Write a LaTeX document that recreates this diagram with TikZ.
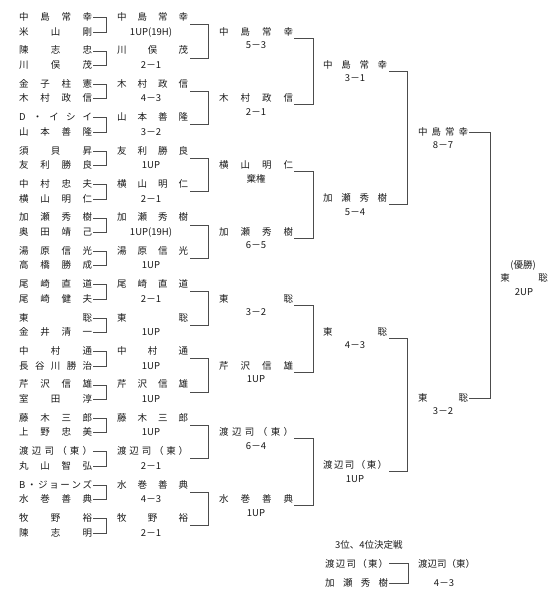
\documentclass[tikz,border=0pt]{standalone}
\usepackage{fontspec}
\setmainfont{Noto Sans CJK JP}
\newcommand\hh{\hfill}
\newcommand\jn[2]{\makebox[#1pt]{#2}}
\tikzset{
 nm/.style={anchor=west, inner sep=0pt, text height=7.5pt, text depth=1.4pt, font=\fontsize{9.5}{10}\selectfont, text=black!90},
 sc/.style={anchor=center, inner sep=0pt, text height=7.5pt, text depth=1.4pt, font=\fontsize{9.5}{10}\selectfont, text=black!90},
 ln/.style={draw=black!70, line width=0.7pt},
}
\begin{document}
\begin{tikzpicture}[x=1pt,y=-1pt]
\path (0,0) rectangle (557,600);
% ---------- round 1
\foreach \k/\a/\b in {
1/中\hh 島\hh 常\hh 幸/米\hh 山\hh 剛,
2/陳\hh 志\hh 忠/川\hh 俣\hh 茂,
3/金\hh 子\hh 柱\hh 憲/木\hh 村\hh 政\hh 信,
4/D\hh ・\hh イ\hh シ\hh イ/山\hh 本\hh 善\hh 隆,
5/須\hh 貝\hh 昇/友\hh 利\hh 勝\hh 良,
6/中\hh 村\hh 忠\hh 夫/横\hh 山\hh 明\hh 仁,
7/加\hh 瀬\hh 秀\hh 樹/奥\hh 田\hh 靖\hh 己,
8/湯\hh 原\hh 信\hh 光/高\hh 橋\hh 勝\hh 成,
9/尾\hh 崎\hh 直\hh 道/尾\hh 崎\hh 健\hh 夫,
10/東\hh 聡/金\hh 井\hh 清\hh 一,
11/中\hh 村\hh 通/長\hh 谷\hh 川\hh 勝\hh 治,
12/芹\hh 沢\hh 信\hh 雄/室\hh 田\hh 淳,
13/藤\hh 木\hh 三\hh 郎/上\hh 野\hh 忠\hh 美,
14/渡\hh 辺\hh 司\hh （\hh 東\hh ）/丸\hh 山\hh 智\hh 弘,
15/B\hh ・\hh ジ\hh ョ\hh ー\hh ン\hh ズ/水\hh 巻\hh 善\hh 典,
16/牧\hh 野\hh 裕/陳\hh 志\hh 明}{
 \pgfmathsetmacro\yy{17.5+33.4*(\k-1)}
 \node[nm] (r1a\k) at (19,\yy) {\jn{73}{\a}};
 \node[nm] (r1b\k) at (19,\yy+14.5) {\jn{73}{\b}};
 \draw[ln] ([xshift=1pt]r1a\k.east) -- ++(13,0) |- ([xshift=1pt]r1b\k.east);
}
% ---------- round 2
\foreach \k/\n/\s in {
1/中\hh 島\hh 常\hh 幸/1UP(19H),
2/川\hh 俣\hh 茂/2－1,
3/木\hh 村\hh 政\hh 信/4－3,
4/山\hh 本\hh 善\hh 隆/3－2,
5/友\hh 利\hh 勝\hh 良/1UP,
6/横\hh 山\hh 明\hh 仁/2－1,
7/加\hh 瀬\hh 秀\hh 樹/1UP(19H),
8/湯\hh 原\hh 信\hh 光/1UP,
9/尾\hh 崎\hh 直\hh 道/2－1,
10/東\hh 聡/1UP,
11/中\hh 村\hh 通/1UP,
12/芹\hh 沢\hh 信\hh 雄/1UP,
13/藤\hh 木\hh 三\hh 郎/1UP,
14/渡\hh 辺\hh 司\hh （\hh 東\hh ）/2－1,
15/水\hh 巻\hh 善\hh 典/4－3,
16/牧\hh 野\hh 裕/2－1}{
 \pgfmathsetmacro\yy{17.5+33.4*(\k-1)}
 \node[nm] (r2n\k) at (117,\yy) {\jn{71}{\n}};
 \node[sc] (r2s\k) at (151,\yy+14.5) {\s};
}
\foreach \k in {1,3,...,15}{
 \pgfmathtruncatemacro\kk{\k+1}
 \draw[ln] ([xshift=2pt,yshift=-7pt]r2n\k.east) -- ++(18,0) |- ([xshift=2pt,yshift=-7pt]r2n\kk.east);
}
% ---------- round 3
\foreach \k/\n/\s in {
1/中\hh 島\hh 常\hh 幸/5－3,
2/木\hh 村\hh 政\hh 信/2－1,
3/横\hh 山\hh 明\hh 仁/棄権,
4/加\hh 瀬\hh 秀\hh 樹/6－5,
5/東\hh 聡/3－2,
6/芹\hh 沢\hh 信\hh 雄/1UP,
7/渡\hh 辺\hh 司\hh （\hh 東\hh ）/6－4,
8/水\hh 巻\hh 善\hh 典/1UP}{
 \pgfmathsetmacro\yy{32+66.8*(\k-1)}
 \node[nm] (r3n\k) at (219,\yy) {\jn{74}{\n}};
 \node[sc] (r3s\k) at (256,\yy+13.5) {\s};
}
\foreach \k in {1,3,5,7}{
 \pgfmathtruncatemacro\kk{\k+1}
 \draw[ln] ([xshift=1pt,yshift=-6pt]r3n\k.east) -- ++(19,0) |- ([xshift=1pt,yshift=-6pt]r3n\kk.east);
}
% ---------- round 4
\foreach \k/\n/\s in {
1/中\hh 島\hh 常\hh 幸/3－1,
2/加\hh 瀬\hh 秀\hh 樹/5－4,
3/東\hh 聡/4－3,
4/渡\hh 辺\hh 司\hh （\hh 東\hh ）/1UP}{
 \pgfmathsetmacro\yy{65+133.6*(\k-1)}
 \node[nm] (r4n\k) at (323,\yy) {\jn{64}{\n}};
 \node[sc] (r4s\k) at (355,\yy+13.5) {\s};
}
\foreach \k in {1,3}{
 \pgfmathtruncatemacro\kk{\k+1}
 \draw[ln] ([xshift=2pt,yshift=-6pt]r4n\k.east) -- ++(18,0) |- ([xshift=2pt,yshift=-6pt]r4n\kk.east);
}
% ---------- round 5
\node[nm] (r5n1) at (418,132) {\jn{50}{中\hh 島\hh 常\hh 幸}};
\node[sc] (r5s1) at (443,145.5) {8－7};
\node[nm] (r5n2) at (418,398) {\jn{50}{東\hh 聡}};
\node[sc] (r5s2) at (443,411.5) {3－2};
\draw[ln] ([xshift=1pt]r5n1.east) -- ++(21,0) |- ([xshift=1pt]r5n2.east);
% ---------- final
\node[sc] (ttl) at (523,265) {(優勝)};
\node[sc] (fa) at (505,278) {東};
\node[sc] (fb) at (543,278) {聡};
\node[sc] (fs) at (524,292) {2UP};
% ---------- third place
\node[nm] (tp) at (335,545) {3位、4位決定戦};
\node[nm] (tpa) at (325,564) {\jn{63}{渡\hh 辺\hh 司\hh （\hh 東\hh ）}};
\node[nm] (tpb) at (325,583) {\jn{63}{加\hh 瀬\hh 秀\hh 樹}};
\draw[ln] ([xshift=1pt,yshift=1pt]tpa.east) -- ++(19,0) |- ([xshift=1pt]tpb.east);
\node[nm] (tpw) at (418,564) {渡辺司（東）};
\node[sc] (tps) at (444,583) {4－3};
\end{tikzpicture}
\end{document}
